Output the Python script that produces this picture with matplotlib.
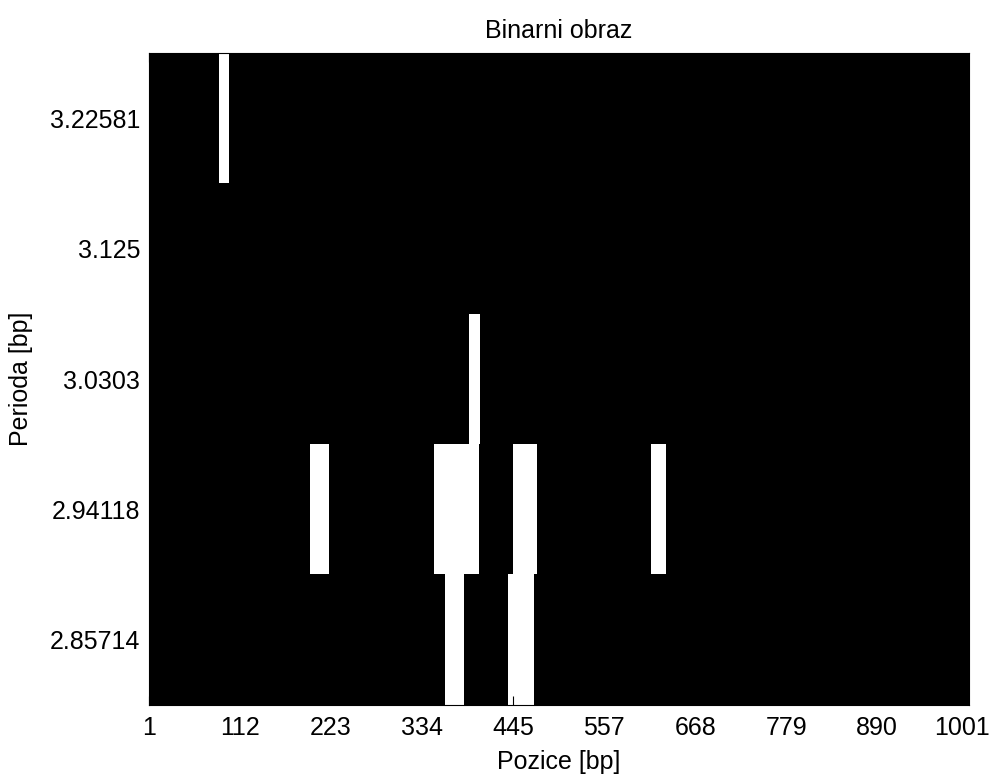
import numpy as np
import matplotlib
matplotlib.use('Agg')
from matplotlib import pyplot as plt
from matplotlib.transforms import ScaledTranslation

plt.rcParams['font.family'] = ['Liberation Sans', 'DejaVu Sans']

# periods shown on the rows (top to bottom)
periods = [3.22581, 3.125, 3.0303, 2.94118, 2.85714]
n_pos = 1001
xtick_labels = ['1', '112', '223', '334', '445', '557', '668', '779', '890', '1001']

# white runs (first column, last column) for each row
row0 = [(86, 97)]
row1 = []
row2 = [(391, 403)]
row3 = [(197, 219), (348, 402), (445, 473), (613, 630)]
row4 = [(362, 384), (439, 470)]
runs = [row0, row1, row2, row3, row4]

img = np.zeros((len(periods), n_pos))
for r, segs in enumerate(runs):
    for a, b in segs:
        img[r, a - 1:b] = 1

fs = 18
fig = plt.figure(figsize=(9.93, 7.74), dpi=100)
ax = fig.add_axes([0.1496, 0.0891, 0.8259, 0.842])
ax.imshow(img, cmap='gray', vmin=0, vmax=1, aspect='auto', interpolation='nearest',
          extent=[0.5, n_pos + 0.5, len(periods) + 0.5, 0.5])

ax.set_xticks(np.linspace(1, n_pos, 10))
ax.set_xticklabels(xtick_labels)
ax.set_yticks(np.arange(1, len(periods) + 1))
ax.set_yticklabels(['%g' % p for p in periods])
ax.tick_params(direction='in', length=6.5, width=0.8, top=True, right=True,
               labelsize=fs, color='black')
ax.tick_params(axis='x', pad=8)
ax.tick_params(axis='y', pad=6)
for s in ax.spines.values():
    s.set_linewidth(0.8)

# last x label sits a bit inward so it stays inside the figure
last = ax.get_xticklabels()[-1]
last.set_transform(last.get_transform() + ScaledTranslation(-0.06, 0, fig.dpi_scale_trans))

ax.set_title('Binarni obraz', fontsize=fs, pad=11)
ax.set_xlabel('Pozice [bp]', fontsize=fs, labelpad=7)
ax.set_ylabel('Perioda [bp]', fontsize=fs, labelpad=12)

fig.savefig('out.png', dpi=100)
